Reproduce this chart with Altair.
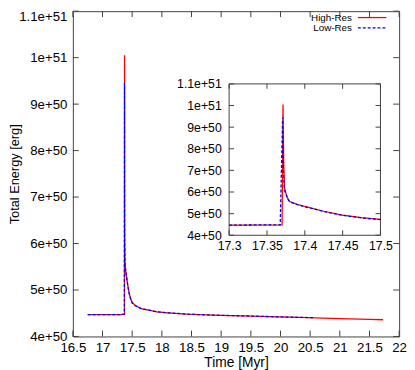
import altair as alt
import pandas as pd

# ---------------- data (time in Myr, total energy in units of 1e50 erg) ----------------
series = ["High-Res", "Low-Res"]
colors = ["#ff0000", "#0000ff"]

hi_t = [16.75, 17.30, 17.370, 17.3712, 17.3722, 17.3733, 17.375, 17.3775, 17.38, 17.39,
        17.40, 17.425, 17.45, 17.475, 17.50, 17.55, 17.65, 17.80, 17.92, 18.10,
        18.42, 18.75, 19.00, 19.50, 20.00, 20.58, 21.00, 21.50, 21.73]
hi_E = [4.47, 4.47, 4.48, 10.05, 7.2, 6.2, 5.95, 5.7, 5.56, 5.43,
        5.33, 5.11, 4.93, 4.81, 4.73, 4.67, 4.60, 4.56, 4.53, 4.51,
        4.48, 4.465, 4.455, 4.44, 4.42, 4.40, 4.385, 4.37, 4.36]

lo_t = [16.75, 17.30, 17.3675, 17.3707, 17.3718, 17.373, 17.375, 17.3775, 17.38, 17.39,
        17.40, 17.425, 17.45, 17.475, 17.50, 17.55, 17.65, 17.80, 17.92, 18.10,
        18.42, 18.75, 19.00, 19.50, 20.00, 20.58]
lo_E = [4.47, 4.47, 4.48, 9.45, 7.0, 6.1, 5.9, 5.68, 5.55, 5.42,
        5.32, 5.10, 4.92, 4.80, 4.72, 4.66, 4.60, 4.56, 4.53, 4.51,
        4.48, 4.465, 4.455, 4.44, 4.42, 4.405]

main_x_ticks = [16.5, 17.0, 17.5, 18.0, 18.5, 19.0, 19.5, 20.0, 20.5, 21.0, 21.5, 22.0]
main_y_ticks = [4, 5, 6, 7, 8, 9, 10, 11]
inset_x_ticks = [17.3, 17.35, 17.4, 17.45, 17.5]
inset_y_ticks = [4, 5, 6, 7, 8, 9, 10, 11]

# ---------------- layout ----------------
FONT = "Liberation Sans"
FRAME = "#404040"
W, H = 332, 331
IX0, IX1 = 159, 313      # inset left/right (px in plot area)
IY0, IY1 = 228, 74       # inset bottom/top
TK, ITK = 6, 5           # tick lengths
LW = 1.3

hi = pd.DataFrame({"t": hi_t, "E": hi_E, "i": list(range(len(hi_t)))})
lo = pd.DataFrame({"t": lo_t, "E": lo_E, "i": list(range(len(lo_t)))})
hi_in = hi[(hi.t >= 17.3) & (hi.t <= 17.5)]
lo_in = lo[(lo.t >= 17.3) & (lo.t <= 17.5)]

sx = alt.Scale(domain=[16.5, 22], nice=False, zero=False)
sy = alt.Scale(domain=[4, 11], nice=False, zero=False)
ix = alt.Scale(domain=[17.3, 17.5], range=[IX0, IX1], nice=False, zero=False)
iy = alt.Scale(domain=[4, 11], range=[IY0, IY1], nice=False, zero=False)

ylab = "datum.value >= 10 ? (datum.value / 10) + 'e+51' : datum.value + 'e+50'"
common = dict(ticks=False, tickSize=0, domain=False, grid=False, labelFont=FONT,
              labelColor="black", labelOverlap=False, labelFlush=False)

ax_main_x = alt.Axis(orient="bottom", values=main_x_ticks, labelExpr="'' + datum.value",
                     labelPadding=4, labelFontSize=13.5, title="Time [Myr]",
                     titleFont=FONT, titleFontSize=14, titleFontWeight="normal",
                     titleColor="black", titleX=W / 2, titleY=27, titleBaseline="middle",
                     titleAlign="center", **common)
ax_main_y = alt.Axis(orient="left", values=main_y_ticks, labelExpr=ylab,
                     labelPadding=6, labelFontSize=13.5,
                     labelOffset={"condition": {"test": "datum.value == 11", "value": 5}, "value": 0},
                     title="Total Energy [erg]", titleFont=FONT, titleFontSize=13,
                     titleFontWeight="normal", titleColor="black", titleX=-59, titleY=H / 2,
                     titleAngle=270, titleBaseline="middle", titleAlign="center", **common)
ax_in_x = alt.Axis(orient="bottom", values=inset_x_ticks, labelExpr="'' + datum.value",
                   offset=-(H - IY0), labelPadding=4, labelFontSize=12.5, title=None, **common)
ax_in_y = alt.Axis(orient="left", values=inset_y_ticks, labelExpr=ylab,
                   offset=-IX0, labelPadding=8, labelFontSize=12.5, title=None, **common)

layers = []

# main ticks (inward, mirrored)
mxt = pd.DataFrame({"v": main_x_ticks})
myt = pd.DataFrame({"v": main_y_ticks})
for a, b in [(H, H - TK), (0, TK)]:
    layers.append(alt.Chart(mxt).mark_rule(color=FRAME, strokeWidth=1).encode(
        x=alt.X("v:Q", scale=sx, axis=None), y=alt.value(a), y2=alt.value(b)))
for a, b in [(0, TK), (W, W - TK)]:
    layers.append(alt.Chart(myt).mark_rule(color=FRAME, strokeWidth=1).encode(
        y=alt.Y("v:Q", scale=sy, axis=None), x=alt.value(a), x2=alt.value(b)))

# main lines
layers.append(alt.Chart(hi).mark_line(color=colors[0], strokeWidth=LW).encode(
    x=alt.X("t:Q", scale=sx, axis=ax_main_x),
    y=alt.Y("E:Q", scale=sy, axis=ax_main_y), order="i:Q"))
layers.append(alt.Chart(lo).mark_line(color=colors[1], strokeWidth=LW, strokeDash=[3, 2]).encode(
    x=alt.X("t:Q", scale=sx, axis=None),
    y=alt.Y("E:Q", scale=sy, axis=None), order="i:Q"))

# inset frame
frame_df = pd.DataFrame({"x0": [inset_x_ticks[0]], "x1": [inset_x_ticks[-1]],
                         "y0": [inset_y_ticks[0]], "y1": [inset_y_ticks[-1]]})
layers.append(alt.Chart(frame_df).mark_rect(fillOpacity=0, stroke=FRAME, strokeWidth=1).encode(
    x=alt.X("x0:Q", scale=ix, axis=None), x2="x1:Q",
    y=alt.Y("y0:Q", scale=iy, axis=None), y2="y1:Q"))

# inset ticks
ixt = pd.DataFrame({"v": inset_x_ticks})
iyt = pd.DataFrame({"v": inset_y_ticks})
for a, b in [(IY0, IY0 - ITK), (IY1, IY1 + ITK)]:
    layers.append(alt.Chart(ixt).mark_rule(color=FRAME, strokeWidth=1).encode(
        x=alt.X("v:Q", scale=ix, axis=None), y=alt.value(a), y2=alt.value(b)))
for a, b in [(IX0, IX0 + ITK), (IX1, IX1 - ITK)]:
    layers.append(alt.Chart(iyt).mark_rule(color=FRAME, strokeWidth=1).encode(
        y=alt.Y("v:Q", scale=iy, axis=None), x=alt.value(a), x2=alt.value(b)))

# inset lines
layers.append(alt.Chart(hi_in).mark_line(color=colors[0], strokeWidth=LW).encode(
    x=alt.X("t:Q", scale=ix, axis=ax_in_x),
    y=alt.Y("E:Q", scale=iy, axis=ax_in_y), order="i:Q"))
layers.append(alt.Chart(lo_in).mark_line(color=colors[1], strokeWidth=LW, strokeDash=[3, 2]).encode(
    x=alt.X("t:Q", scale=ix, axis=None),
    y=alt.Y("E:Q", scale=iy, axis=None), order="i:Q"))

# legend (label left of sample line, gnuplot style)
for k, (name, col, yy) in enumerate(zip(series, colors, [6.5, 17])):
    ldf = pd.DataFrame({"s": [name]})
    layers.append(alt.Chart(ldf).mark_text(align="right", baseline="middle", font=FONT,
                                           fontSize=10, color="black").encode(
        x=alt.value(284), y=alt.value(yy), text="s:N"))
    rule_kw = dict(color=col, strokeWidth=LW)
    if k == 1:
        rule_kw["strokeDash"] = [3, 2]
    layers.append(alt.Chart(ldf).mark_rule(**rule_kw).encode(
        x=alt.value(290), x2=alt.value(319), y=alt.value(yy)))

chart = alt.layer(*layers).resolve_scale(x="independent", y="independent").properties(
    width=W, height=H,
    padding={"left": 66, "top": 0, "right": 8, "bottom": 38},
    autosize=alt.AutoSizeParams(type="none"),
).configure_view(stroke=FRAME, strokeWidth=1)

chart.save("out.html", embed_options={"renderer": "svg", "actions": False})
